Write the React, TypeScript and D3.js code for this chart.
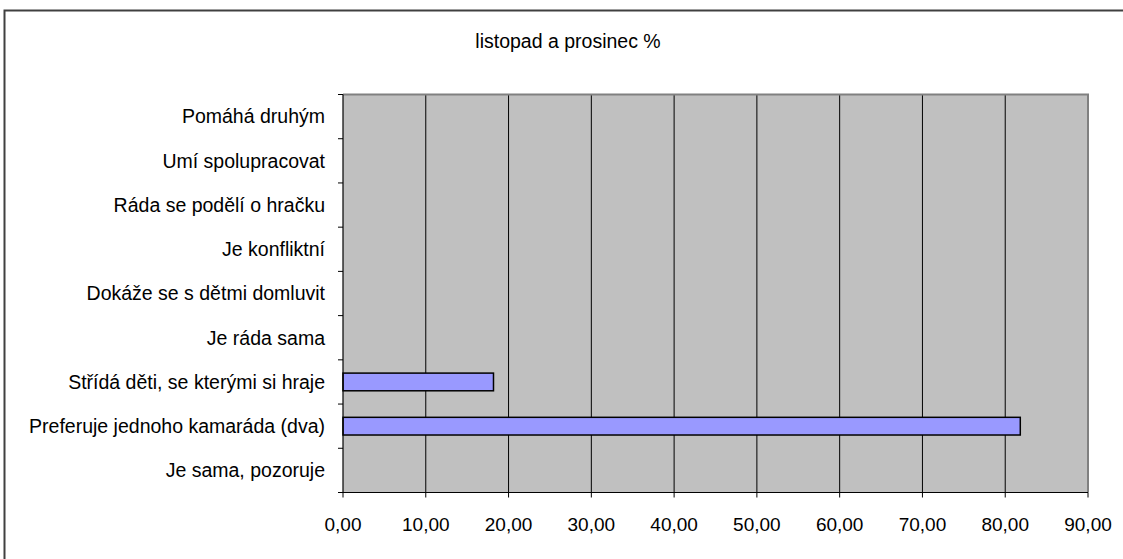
import React from "react";
import * as d3 from "d3";

const title = "listopad a prosinec %";
const categories = [
  "Pomáhá druhým",
  "Umí spolupracovat",
  "Ráda se podělí o hračku",
  "Je konfliktní",
  "Dokáže se s dětmi domluvit",
  "Je ráda sama",
  "Střídá děti, se kterými si hraje",
  "Preferuje jednoho kamaráda (dva)",
  "Je sama, pozoruje",
];
const values = [0, 0, 0, 0, 0, 0, 18.18, 81.82, 0];
const xTicks = [0, 10, 20, 30, 40, 50, 60, 70, 80, 90];

const W = 1123;
const H = 559;
const left = 343;
const right = 1088;
const top = 94.5;
const bottom = 492.5;
const font = "'Liberation Sans', Arial, sans-serif";

export default function App() {
  const x = d3.scaleLinear().domain([0, 90]).range([left, right]);
  const y = d3
    .scaleBand<string>()
    .domain(categories)
    .range([top, bottom])
    .paddingInner(0.6)
    .paddingOuter(0.3);
  const step = y.step();
  const fmt = (v: number) => d3.format(".2f")(v).replace(".", ",");
  const boundaries = d3.range(categories.length + 1).map((i) => top + i * step);

  return (
    <svg
      width={W}
      height={H}
      style={{ position: "absolute", left: 0, top: 0, background: "#fff" }}
      fontFamily={font}
    >
      <rect x={4.5} y={10.5} width={W + 10} height={H + 10} fill="#fff" stroke="#404040" strokeWidth={2} />
      <text x={568} y={48} textAnchor="middle" fontSize={19.5} fill="#000">
        {title}
      </text>
      <rect x={left} y={top} width={right - left} height={bottom - top} fill="#C0C0C0" />
      {xTicks.slice(1, -1).map((t) => (
        <line key={t} x1={x(t)} x2={x(t)} y1={top} y2={bottom} stroke="#000" strokeWidth={1} />
      ))}
      <line x1={left} x2={right + 1} y1={top} y2={top} stroke="#808080" strokeWidth={2} />
      <line x1={right} x2={right} y1={top} y2={bottom} stroke="#808080" strokeWidth={2} />
      {categories.map((c, i) =>
        values[i] > 0 ? (
          <rect
            key={c}
            x={x(0)}
            y={y(c)!}
            width={x(values[i]) - x(0)}
            height={y.bandwidth()}
            fill="#9999FF"
            stroke="#000"
            strokeWidth={1.5}
          />
        ) : null
      )}
      <line x1={left} x2={left} y1={top} y2={bottom} stroke="#000" strokeWidth={1.2} />
      <line x1={left} x2={right} y1={bottom} y2={bottom} stroke="#000" strokeWidth={1.2} />
      {boundaries.map((b, i) => (
        <line key={i} x1={left - 5} x2={left} y1={b} y2={b} stroke="#000" strokeWidth={1} />
      ))}
      {xTicks.map((t) => (
        <line key={t} x1={x(t)} x2={x(t)} y1={bottom} y2={bottom + 5} stroke="#000" strokeWidth={1} />
      ))}
      {categories.map((c) => (
        <text
          key={c}
          x={left - 18}
          y={y(c)! + y.bandwidth() / 2}
          dy="0.35em"
          textAnchor="end"
          fontSize={19.5}
          fill="#000"
        >
          {c}
        </text>
      ))}
      {xTicks.map((t) => (
        <text key={t} x={x(t)} y={bottom + 38} textAnchor="middle" fontSize={19} fill="#000">
          {fmt(t)}
        </text>
      ))}
    </svg>
  );
}
